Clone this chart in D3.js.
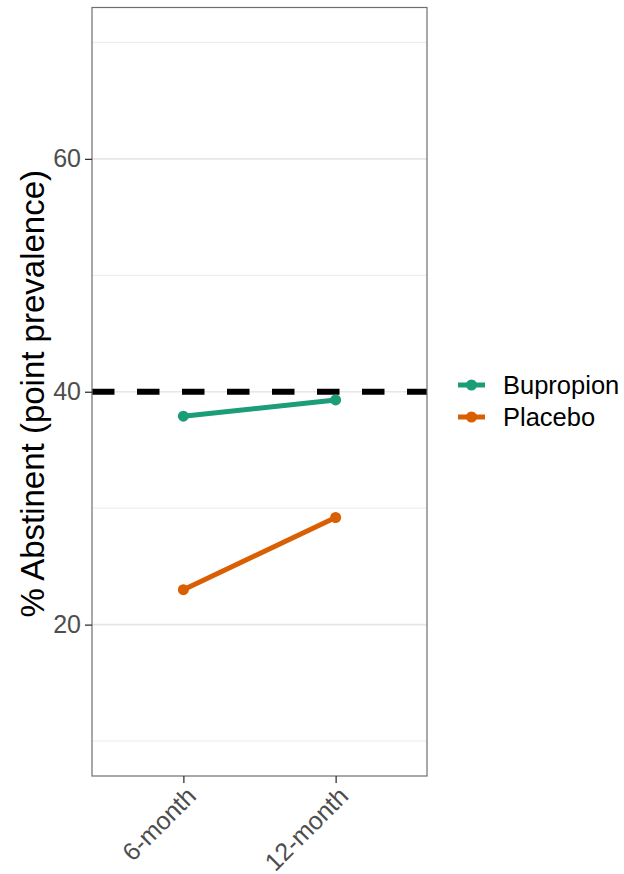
<!DOCTYPE html>
<html>
<head>
<meta charset="utf-8">
<script src="https://cdn.jsdelivr.net/npm/d3@7"></script>
<style>
  html, body { margin: 0; padding: 0; background: #fff; }
  svg { display: block; }
  text { font-family: "Liberation Sans", Arial, sans-serif; }
</style>
</head>
<body>
<svg id="chart" width="624" height="874"></svg>
<script>
// ---- data ----
const timepoints = ["6-month", "12-month"];
const seriesNames = ["Bupropion", "Placebo"];
const bupropionValues = [37.9, 39.3];
const placeboValues = [23.0, 29.2];
const seriesColors = ["#1B9E77", "#D95F02"];
const referenceLine = 40;
const yMajorTicks = [20, 40, 60];
const yMinorTicks = [10, 30, 50, 70];
const yDomain = [7, 73];
const yTitle = "% Abstinent (point prevalence)";

const series = [
  { name: seriesNames[0], values: bupropionValues, color: seriesColors[0] },
  { name: seriesNames[1], values: placeboValues, color: seriesColors[1] }
];

// ---- layout ----
const panel = { left: 92, right: 427, top: 7.5, bottom: 776 };
const svg = d3.select("#chart");

const x = d3.scalePoint().domain(timepoints).range([panel.left, panel.right]).padding(0.6);
const y = d3.scaleLinear().domain(yDomain).range([panel.bottom, panel.top]);

const g = svg.append("g");

g.append("rect")
  .attr("x", panel.left).attr("y", panel.top)
  .attr("width", panel.right - panel.left).attr("height", panel.bottom - panel.top)
  .attr("fill", "#fff");

// minor grid
g.selectAll(".minor").data(yMinorTicks).join("line")
  .attr("x1", panel.left).attr("x2", panel.right)
  .attr("y1", d => y(d)).attr("y2", d => y(d))
  .attr("stroke", "#ebebeb").attr("stroke-width", 1);

// major grid
g.selectAll(".major").data(yMajorTicks).join("line")
  .attr("x1", panel.left).attr("x2", panel.right)
  .attr("y1", d => y(d)).attr("y2", d => y(d))
  .attr("stroke", "#e6e6e6").attr("stroke-width", 1.6);

// reference dashed line
g.append("line")
  .attr("x1", panel.left).attr("x2", panel.right)
  .attr("y1", y(referenceLine)).attr("y2", y(referenceLine))
  .attr("stroke", "#000").attr("stroke-width", 6)
  .attr("stroke-dasharray", "22.5,22.5");

// lines + points
const line = d3.line().x((d, i) => x(timepoints[i])).y(d => y(d));
series.forEach(s => {
  g.append("path")
    .attr("d", line(s.values))
    .attr("fill", "none").attr("stroke", s.color).attr("stroke-width", 5)
    .attr("stroke-linecap", "butt");
  g.selectAll(null).data(s.values).join("circle")
    .attr("cx", (d, i) => x(timepoints[i])).attr("cy", d => y(d))
    .attr("r", 5.5).attr("fill", s.color);
});

// panel border
g.append("rect")
  .attr("x", panel.left).attr("y", panel.top)
  .attr("width", panel.right - panel.left).attr("height", panel.bottom - panel.top)
  .attr("fill", "none").attr("stroke", "#6e6e6e").attr("stroke-width", 1.2);

// y axis
const yAxis = d3.axisLeft(y).tickValues(yMajorTicks).tickSize(7).tickPadding(4);
const ya = svg.append("g").attr("transform", `translate(${panel.left},0)`).call(yAxis);
ya.select(".domain").remove();
ya.selectAll(".tick line").attr("stroke", "#333").attr("stroke-width", 1.3);
ya.selectAll(".tick text")
  .attr("fill", "#4d4d4d").style("font-size", "25px")
  .style("font-family", "'Liberation Sans', Arial, sans-serif");

// x axis
const xAxis = d3.axisBottom(x).tickSize(7).tickPadding(4);
const xa = svg.append("g").attr("transform", `translate(0,${panel.bottom})`).call(xAxis);
xa.select(".domain").remove();
xa.selectAll(".tick line").attr("stroke", "#333").attr("stroke-width", 1.3);
xa.selectAll(".tick text")
  .attr("fill", "#4d4d4d").style("font-size", "25px")
  .style("font-family", "'Liberation Sans', Arial, sans-serif")
  .attr("text-anchor", "end")
  .attr("y", 0).attr("dy", "0.72em")
  .attr("transform", "translate(1,9) rotate(-45)");

// y title
svg.append("text")
  .attr("transform", `translate(44,${(panel.top + panel.bottom) / 2 + 2}) rotate(-90)`)
  .attr("text-anchor", "middle")
  .attr("fill", "#000")
  .style("font-size", "33px")
  .text(yTitle);

// legend
const legend = svg.append("g").attr("transform", "translate(458,385)");
series.forEach((s, i) => {
  const row = legend.append("g").attr("transform", `translate(0,${i * 32})`);
  row.append("line").attr("x1", 0).attr("x2", 27).attr("y1", 0).attr("y2", 0)
    .attr("stroke", s.color).attr("stroke-width", 5);
  row.append("circle").attr("cx", 13.5).attr("cy", 0).attr("r", 5.5).attr("fill", s.color);
  row.append("text").attr("x", 45).attr("y", 0).attr("dy", "0.35em")
    .attr("fill", "#000").style("font-size", "25.5px").text(s.name);
});
</script>
</body>
</html>
